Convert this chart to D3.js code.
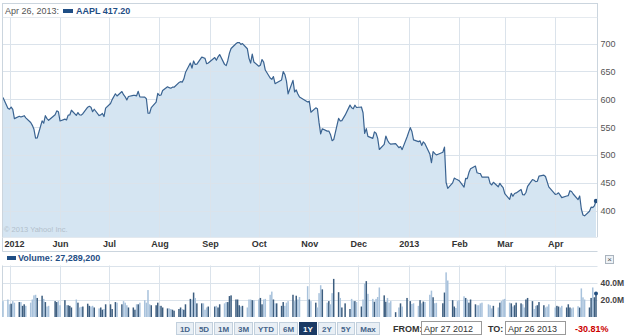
<!DOCTYPE html>
<html>
<head>
<meta charset="utf-8">
<script src="https://cdnjs.cloudflare.com/ajax/libs/d3/7.8.5/d3.min.js"></script>
<style>
  body { margin: 0; background: #fff; }
  svg { display: block; font-family: "Liberation Sans", Arial, sans-serif; }
</style>
</head>
<body>
<div id="chart"></div>
<script>
// quote shown in the header
var symbol = "AAPL", headerDate = "Apr 26, 2013:", lastClose = "417.20", lastVolume = "27,289,200";

// trading days, Apr 27 2012 .. Apr 26 2013
var dates = [
  "2012-04-27","2012-04-30",
  "2012-05-01","2012-05-02","2012-05-03","2012-05-04","2012-05-07","2012-05-08","2012-05-09","2012-05-10","2012-05-11","2012-05-14","2012-05-15","2012-05-16","2012-05-17","2012-05-18","2012-05-21","2012-05-22","2012-05-23","2012-05-24","2012-05-25","2012-05-29","2012-05-30","2012-05-31",
  "2012-06-01","2012-06-04","2012-06-05","2012-06-06","2012-06-07","2012-06-08","2012-06-11","2012-06-12","2012-06-13","2012-06-14","2012-06-15","2012-06-18","2012-06-19","2012-06-20","2012-06-21","2012-06-22","2012-06-25","2012-06-26","2012-06-27","2012-06-28","2012-06-29",
  "2012-07-02","2012-07-03","2012-07-05","2012-07-06","2012-07-09","2012-07-10","2012-07-11","2012-07-12","2012-07-13","2012-07-16","2012-07-17","2012-07-18","2012-07-19","2012-07-20","2012-07-23","2012-07-24","2012-07-25","2012-07-26","2012-07-27","2012-07-30","2012-07-31",
  "2012-08-01","2012-08-02","2012-08-03","2012-08-06","2012-08-07","2012-08-08","2012-08-09","2012-08-10","2012-08-13","2012-08-14","2012-08-15","2012-08-16","2012-08-17","2012-08-20","2012-08-21","2012-08-22","2012-08-23","2012-08-24","2012-08-27","2012-08-28","2012-08-29","2012-08-30","2012-08-31",
  "2012-09-04","2012-09-05","2012-09-06","2012-09-07","2012-09-10","2012-09-11","2012-09-12","2012-09-13","2012-09-14","2012-09-17","2012-09-18","2012-09-19","2012-09-20","2012-09-21","2012-09-24","2012-09-25","2012-09-26","2012-09-27","2012-09-28",
  "2012-10-01","2012-10-02","2012-10-03","2012-10-04","2012-10-05","2012-10-08","2012-10-09","2012-10-10","2012-10-11","2012-10-12","2012-10-15","2012-10-16","2012-10-17","2012-10-18","2012-10-19","2012-10-22","2012-10-23","2012-10-24","2012-10-25","2012-10-26","2012-10-31",
  "2012-11-01","2012-11-02","2012-11-05","2012-11-06","2012-11-07","2012-11-08","2012-11-09","2012-11-12","2012-11-13","2012-11-14","2012-11-15","2012-11-16","2012-11-19","2012-11-20","2012-11-21","2012-11-23","2012-11-26","2012-11-27","2012-11-28","2012-11-29","2012-11-30",
  "2012-12-03","2012-12-04","2012-12-05","2012-12-06","2012-12-07","2012-12-10","2012-12-11","2012-12-12","2012-12-13","2012-12-14","2012-12-17","2012-12-18","2012-12-19","2012-12-20","2012-12-21","2012-12-24","2012-12-26","2012-12-27","2012-12-28","2012-12-31",
  "2013-01-02","2013-01-03","2013-01-04","2013-01-07","2013-01-08","2013-01-09","2013-01-10","2013-01-11","2013-01-14","2013-01-15","2013-01-16","2013-01-17","2013-01-18","2013-01-22","2013-01-23","2013-01-24","2013-01-25","2013-01-28","2013-01-29","2013-01-30","2013-01-31",
  "2013-02-01","2013-02-04","2013-02-05","2013-02-06","2013-02-07","2013-02-08","2013-02-11","2013-02-12","2013-02-13","2013-02-14","2013-02-15","2013-02-19","2013-02-20","2013-02-21","2013-02-22","2013-02-25","2013-02-26","2013-02-27","2013-02-28",
  "2013-03-01","2013-03-04","2013-03-05","2013-03-06","2013-03-07","2013-03-08","2013-03-11","2013-03-12","2013-03-13","2013-03-14","2013-03-15","2013-03-18","2013-03-19","2013-03-20","2013-03-21","2013-03-22","2013-03-25","2013-03-26","2013-03-27","2013-03-28",
  "2013-04-01","2013-04-02","2013-04-03","2013-04-04","2013-04-05","2013-04-08","2013-04-09","2013-04-10","2013-04-11","2013-04-12","2013-04-15","2013-04-16","2013-04-17","2013-04-18","2013-04-19","2013-04-22","2013-04-23","2013-04-24","2013-04-25","2013-04-26"
];

var closes = [
  603.00, 583.98,
  582.13, 585.98, 581.82, 565.25, 569.48, 568.18, 569.18, 570.52, 566.71, 558.22, 553.17, 546.08, 530.12, 530.38, 561.28, 556.97, 570.56, 565.32, 562.29, 572.27, 579.17, 577.73,
  560.99, 564.29, 562.83, 571.46, 571.72, 580.32, 571.17, 576.16, 572.16, 571.53, 574.13, 585.78, 587.41, 585.74, 577.67, 582.10, 570.76, 572.02, 574.50, 569.05, 584.00,
  592.52, 599.41, 609.94, 605.88, 613.89, 608.21, 604.43, 598.90, 604.97, 606.91, 606.94, 606.26, 614.32, 604.30, 603.83, 600.92, 574.97, 574.88, 585.16, 595.03, 610.76,
  606.81, 607.79, 615.70, 622.55, 620.91, 619.86, 621.70, 621.70, 630.00, 631.69, 630.83, 636.34, 648.11, 665.15, 656.06, 668.87, 662.63, 663.22, 675.68, 674.80, 673.47, 663.87, 665.24,
  674.97, 670.23, 676.27, 680.44, 662.74, 660.59, 669.79, 682.98, 691.28, 699.78, 701.91, 702.10, 698.70, 700.09, 690.79, 673.54, 665.18, 681.32, 667.10,
  659.39, 661.31, 671.45, 666.80, 652.59, 638.17, 635.85, 640.91, 628.10, 629.71, 634.76, 649.79, 644.61, 632.64, 609.84, 634.03, 613.36, 616.83, 609.54, 604.00, 595.32,
  596.54, 576.80, 584.62, 582.85, 558.00, 537.75, 547.06, 542.83, 542.90, 536.88, 525.62, 527.68, 565.73, 560.91, 561.70, 571.50, 589.53, 584.78, 582.94, 589.36, 585.28,
  586.19, 575.85, 538.79, 547.24, 533.25, 529.82, 541.39, 539.00, 529.69, 509.79, 518.83, 533.90, 526.31, 521.73, 519.33, 520.17, 513.00, 515.06, 509.59, 532.17,
  549.03, 542.10, 527.00, 523.90, 525.31, 517.10, 523.51, 520.30, 501.75, 485.92, 506.09, 502.68, 500.00, 504.77, 514.01, 450.50, 439.88, 449.83, 458.27, 456.83, 455.49,
  453.62, 442.32, 457.84, 457.35, 468.22, 474.98, 479.93, 467.90, 467.01, 466.59, 460.16, 459.99, 448.85, 446.06, 450.81, 442.80, 448.97, 444.57, 441.40,
  430.47, 420.05, 431.14, 425.66, 430.58, 431.72, 437.87, 428.43, 428.35, 432.50, 443.66, 455.72, 454.49, 452.08, 452.73, 461.91, 463.58, 461.14, 452.08, 442.66,
  428.91, 429.79, 431.99, 427.72, 423.20, 426.21, 426.98, 435.69, 434.33, 429.80, 419.85, 426.24, 402.80, 392.05, 390.53, 398.67, 406.13, 405.46, 408.38, 417.20
];

// daily volume, millions of shares
var volumes = [
  18.5, 20.4,
  14.8, 15.5, 18.5, 16.7, 17.4, 17.4, 13.0, 14.8, 13.0, 16.7, 20.4, 25.2, 25.9, 22.2, 24.8, 21.1, 17.4, 12.2, 13.0, 18.5, 17.4, 18.5,
  13.7, 19.6, 13.7, 13.7, 13.0, 11.1, 20.4, 16.7, 11.1, 11.8, 12.2, 15.5, 13.0, 12.2, 13.0, 11.1, 10.0, 11.1, 8.5, 9.3, 14.8,
  14.8, 9.3, 17.4, 16.7, 14.8, 18.5, 16.7, 13.7, 11.1, 11.1, 8.5, 14.8, 14.8, 16.7, 19.6, 16.7, 31.4, 14.8, 13.7, 13.7, 16.7,
  13.0, 13.0, 11.1, 10.0, 10.0, 9.3, 8.5, 7.4, 9.3, 11.1, 9.3, 8.5, 14.8, 21.1, 20.4, 28.5, 22.2, 15.9, 15.9, 15.9, 8.5, 11.1, 12.2,
  12.2, 13.0, 11.1, 14.8, 15.9, 17.4, 17.4, 24.4, 25.2, 20.4, 20.4, 13.7, 12.2, 13.0, 11.1, 20.4, 20.4, 19.6, 19.6,
  20.4, 22.2, 14.8, 20.4, 21.1, 25.9, 29.6, 20.4, 15.9, 15.9, 13.0, 17.4, 13.0, 16.7, 18.5, 25.9, 18.5, 24.8, 20.4, 23.3, 35.9,
  20.4, 18.5, 16.7, 11.1, 27.8, 37.0, 32.2, 16.7, 18.5, 14.8, 27.8, 44.4, 28.9, 22.2, 11.1, 15.9, 9.3, 21.1, 18.5, 18.5, 17.4,
  12.2, 20.4, 38.9, 41.8, 27.0, 21.1, 17.8, 21.1, 23.3, 34.4, 25.2, 17.8, 22.2, 16.7, 18.5, 5.6, 11.1, 15.9, 12.2, 22.2,
  18.5, 15.2, 16.0, 13.0, 19.6, 15.9, 18.0, 17.5, 25.9, 30.7, 23.0, 16.0, 16.5, 16.0, 28.5, 52.0, 42.5, 19.6, 12.2, 10.5, 18.5,
  19.6, 24.1, 22.2, 20.4, 16.7, 20.4, 14.8, 13.7, 13.7, 15.9, 16.7, 14.8, 13.7, 10.0, 13.0, 11.1, 16.7, 18.5, 20.4,
  21.1, 16.7, 15.9, 12.2, 13.7, 16.7, 15.9, 14.8, 11.1, 20.4, 22.2, 18.5, 9.3, 13.0, 13.7, 17.4, 13.7, 11.1, 12.2, 14.8,
  11.1, 13.0, 12.2, 11.1, 13.0, 11.1, 14.8, 11.1, 10.0, 11.1, 12.5, 11.0, 33.3, 22.9, 20.4, 11.1, 22.2, 34.4, 23.0, 27.3
];

var priceTicks = [400, 450, 500, 550, 600, 650, 700];
var volumeTicks = [20, 40];
var monthTicks = ["2012-05-01","2012-06-01","2012-07-01","2012-08-01","2012-09-01","2012-10-01","2012-11-01","2012-12-01","2013-01-01","2013-02-01","2013-03-01","2013-04-01"];
var monthLabels = ["2012","Jun","Jul","Aug","Sep","Oct","Nov","Dec","2013","Feb","Mar","Apr"];
var rangeButtons = ["1D","5D","1M","3M","YTD","6M","1Y","2Y","5Y","Max"];
var selectedRange = "1Y";
var fromDate = "Apr 27 2012", toDate = "Apr 26 2013", change = "-30.81%";

var parseDate = d3.timeParse("%Y-%m-%d");
var width = 625, height = 336;
var plot = {left: 2.5, right: 597.5, top: 17.5, bottom: 237};
var vol = {top: 265.5, bottom: 317};
var blue = "#1f4e85", frame = "#cbd5de", grid = "#dbe3eb";

var data = dates.map(function(d, i) {
  return {date: parseDate(d), close: closes[i], volume: volumes[i], up: i > 0 && closes[i] >= closes[i - 1]};
});
var months = monthTicks.map(parseDate);

var x = d3.scaleTime().domain(d3.extent(data, function(d) { return d.date; })).range([3, 596]);
var y = d3.scaleLinear().domain([352.5, 747]).range([plot.bottom, plot.top]);
var yVol = d3.scaleLinear().domain([0, 60]).range([vol.bottom, vol.top]);

function snap(v) { return Math.round(v) + 0.5; }

var svg = d3.select("#chart").append("svg")
            .attr("width", width)
            .attr("height", height);

// header strip
svg.append("rect")
   .attr("x", 2.5).attr("y", 3.5).attr("width", 595).attr("height", 14)
   .attr("fill", "#fff").attr("stroke", frame);

svg.append("text")
   .attr("x", 5).attr("y", 14)
   .attr("font-size", 9).attr("fill", "#555")
   .text(headerDate);

svg.append("rect")
   .attr("x", 63).attr("y", 9).attr("width", 10).attr("height", 4)
   .attr("fill", blue);

svg.append("text")
   .attr("x", 76).attr("y", 14)
   .attr("font-size", 9).attr("font-weight", "bold").attr("fill", blue)
   .text(symbol + " " + lastClose);

// price panel
svg.append("rect")
   .attr("x", plot.left).attr("y", plot.top)
   .attr("width", plot.right - plot.left).attr("height", plot.bottom - plot.top)
   .attr("fill", "#fff");

var area = d3.area()
             .x(function(d) { return x(d.date); })
             .y0(plot.bottom)
             .y1(function(d) { return y(d.close); });

var line = d3.line()
             .x(function(d) { return x(d.date); })
             .y(function(d) { return y(d.close); });

svg.append("path")
   .datum(data)
   .attr("d", area)
   .attr("fill", "#d5e5f2");

svg.selectAll(".hgrid")
   .data(priceTicks)
   .enter()
   .append("line")
   .attr("class", "hgrid")
   .attr("x1", 3).attr("x2", plot.right)
   .attr("y1", function(d) { return snap(y(d)); })
   .attr("y2", function(d) { return snap(y(d)); })
   .attr("stroke", grid);

svg.selectAll(".vgrid")
   .data(months)
   .enter()
   .append("line")
   .attr("class", "vgrid")
   .attr("x1", function(d) { return snap(x(d)); })
   .attr("x2", function(d) { return snap(x(d)); })
   .attr("y1", plot.top).attr("y2", plot.bottom)
   .attr("stroke", grid);

svg.append("path")
   .datum(data)
   .attr("d", line)
   .attr("fill", "none")
   .attr("stroke", "#3a6391")
   .attr("stroke-width", 1.2)
   .attr("stroke-linejoin", "round");

var last = data[data.length - 1];
svg.append("circle")
   .attr("cx", x(last.date)).attr("cy", y(last.close)).attr("r", 2.2)
   .attr("fill", "#234f80");

svg.append("text")
   .attr("x", 4).attr("y", 232)
   .attr("font-size", 7.5).attr("fill", "#b3bfcb")
   .text("\u00a9 2013 Yahoo! Inc.");

// frame lines
svg.append("line").attr("x1", plot.left).attr("x2", plot.left).attr("y1", plot.top).attr("y2", 251.5).attr("stroke", frame);
svg.append("line").attr("x1", plot.right).attr("x2", plot.right).attr("y1", plot.top).attr("y2", plot.bottom).attr("stroke", frame);
svg.append("line").attr("x1", plot.left).attr("x2", plot.right).attr("y1", 237.5).attr("y2", 237.5).attr("stroke", "#e3e9ef");
svg.append("line").attr("x1", plot.left).attr("x2", plot.right).attr("y1", 251.5).attr("y2", 251.5).attr("stroke", frame);

// price axis on the right
var yAxis = d3.axisRight(y).tickValues(priceTicks).tickSize(0).tickPadding(3);
var gy = svg.append("g").attr("transform", "translate(" + plot.right + ",0)").call(yAxis);
gy.select(".domain").remove();
gy.selectAll("text").attr("font-family", null).attr("font-size", 9).attr("fill", "#555");

// month axis
var xAxis = d3.axisBottom(x).tickValues(months).tickSize(0).tickPadding(3)
              .tickFormat(function(d, i) { return monthLabels[i]; });
var gx = svg.append("g").attr("transform", "translate(0,238)").call(xAxis);
gx.select(".domain").remove();
gx.selectAll("text")
  .attr("font-family", null).attr("font-size", 9).attr("font-weight", "bold").attr("fill", "#333")
  .attr("text-anchor", function(d, i) { return i === 0 ? "start" : "middle"; })
  .attr("x", function(d, i) { return i === 0 ? 4 - x(d) : 0; });

// volume panel
svg.append("rect")
   .attr("x", 7).attr("y", 256).attr("width", 9).attr("height", 4)
   .attr("fill", blue);

svg.append("text")
   .attr("x", 18).attr("y", 261)
   .attr("font-size", 9).attr("font-weight", "bold").attr("fill", blue)
   .text("Volume: " + lastVolume);

svg.append("rect")
   .attr("x", 605.5).attr("y", 255.5).attr("width", 8).attr("height", 8)
   .attr("fill", "#eef2f6").attr("stroke", "#aab4be");
svg.append("text")
   .attr("x", 609.5).attr("y", 262.3).attr("text-anchor", "middle")
   .attr("font-size", 8).attr("fill", "#555")
   .text("\u00d7");

svg.selectAll(".vhgrid")
   .data([20, 40, 60])
   .enter()
   .append("line")
   .attr("class", "vhgrid")
   .attr("x1", plot.left).attr("x2", plot.right)
   .attr("y1", function(d) { return snap(yVol(d)); })
   .attr("y2", function(d) { return snap(yVol(d)); })
   .attr("stroke", grid);

svg.selectAll(".vvgrid")
   .data(months)
   .enter()
   .append("line")
   .attr("class", "vvgrid")
   .attr("x1", function(d) { return snap(x(d)); })
   .attr("x2", function(d) { return snap(x(d)); })
   .attr("y1", vol.top).attr("y2", vol.bottom)
   .attr("stroke", grid);

svg.append("line").attr("x1", plot.left).attr("x2", plot.left).attr("y1", vol.top).attr("y2", vol.bottom).attr("stroke", frame);

svg.selectAll(".bar")
   .data(data)
   .enter()
   .append("rect")
   .attr("class", "bar")
   .attr("x", function(d) { return x(d.date) - 0.75; })
   .attr("width", 1.5)
   .attr("y", function(d) { return yVol(d.volume); })
   .attr("height", function(d) { return vol.bottom - yVol(d.volume); })
   .attr("fill", function(d) { return d.up ? "#3c5d7f" : "#a8c2dc"; });

svg.append("circle")
   .attr("cx", x(last.date)).attr("cy", yVol(last.volume)).attr("r", 2)
   .attr("fill", "#234f80");

var vAxis = d3.axisRight(yVol).tickValues(volumeTicks).tickSize(0).tickPadding(3)
              .tickFormat(function(d) { return d.toFixed(1) + "M"; });
var gv = svg.append("g").attr("transform", "translate(" + plot.right + ",0)").call(vAxis);
gv.select(".domain").remove();
gv.selectAll("text").attr("font-family", null).attr("font-size", 8.5).attr("font-weight", "bold").attr("fill", "#444");

// range buttons and date boxes
var bx = 176;
rangeButtons.forEach(function(b) {
  var g = svg.append("g");
  var t = g.append("text")
           .attr("y", 331.5)
           .attr("font-size", 8).attr("font-weight", "bold")
           .attr("fill", b === selectedRange ? "#fff" : "#45648a")
           .text(b);
  var w = Math.round(t.node().getComputedTextLength()) + 7;
  g.insert("rect", "text")
   .attr("x", bx + 0.5).attr("y", 322.5).attr("width", w).attr("height", 12)
   .attr("fill", b === selectedRange ? "#1b3a64" : "#e9eff5")
   .attr("stroke", b === selectedRange ? "#1b3a64" : "#c2d0dd");
  t.attr("x", bx + 0.5 + w / 2).attr("text-anchor", "middle");
  bx += w + 2;
});

svg.append("text")
   .attr("x", 393).attr("y", 331.5)
   .attr("font-size", 9).attr("font-weight", "bold").attr("fill", "#333")
   .text("FROM:");
svg.append("rect")
   .attr("x", 421.5).attr("y", 321.5).attr("width", 60).attr("height", 13)
   .attr("fill", "#fff").attr("stroke", "#999");
svg.append("text")
   .attr("x", 424).attr("y", 331.5)
   .attr("font-size", 9).attr("fill", "#333")
   .text(fromDate);

svg.append("text")
   .attr("x", 488).attr("y", 331.5)
   .attr("font-size", 9).attr("font-weight", "bold").attr("fill", "#333")
   .text("TO:");
svg.append("rect")
   .attr("x", 505.5).attr("y", 321.5).attr("width", 60).attr("height", 13)
   .attr("fill", "#fff").attr("stroke", "#999");
svg.append("text")
   .attr("x", 508).attr("y", 331.5)
   .attr("font-size", 9).attr("fill", "#333")
   .text(toDate);

svg.append("text")
   .attr("x", 575).attr("y", 331.5)
   .attr("font-size", 9).attr("font-weight", "bold").attr("fill", "#cc0000")
   .text(change);
</script>
</body>
</html>
